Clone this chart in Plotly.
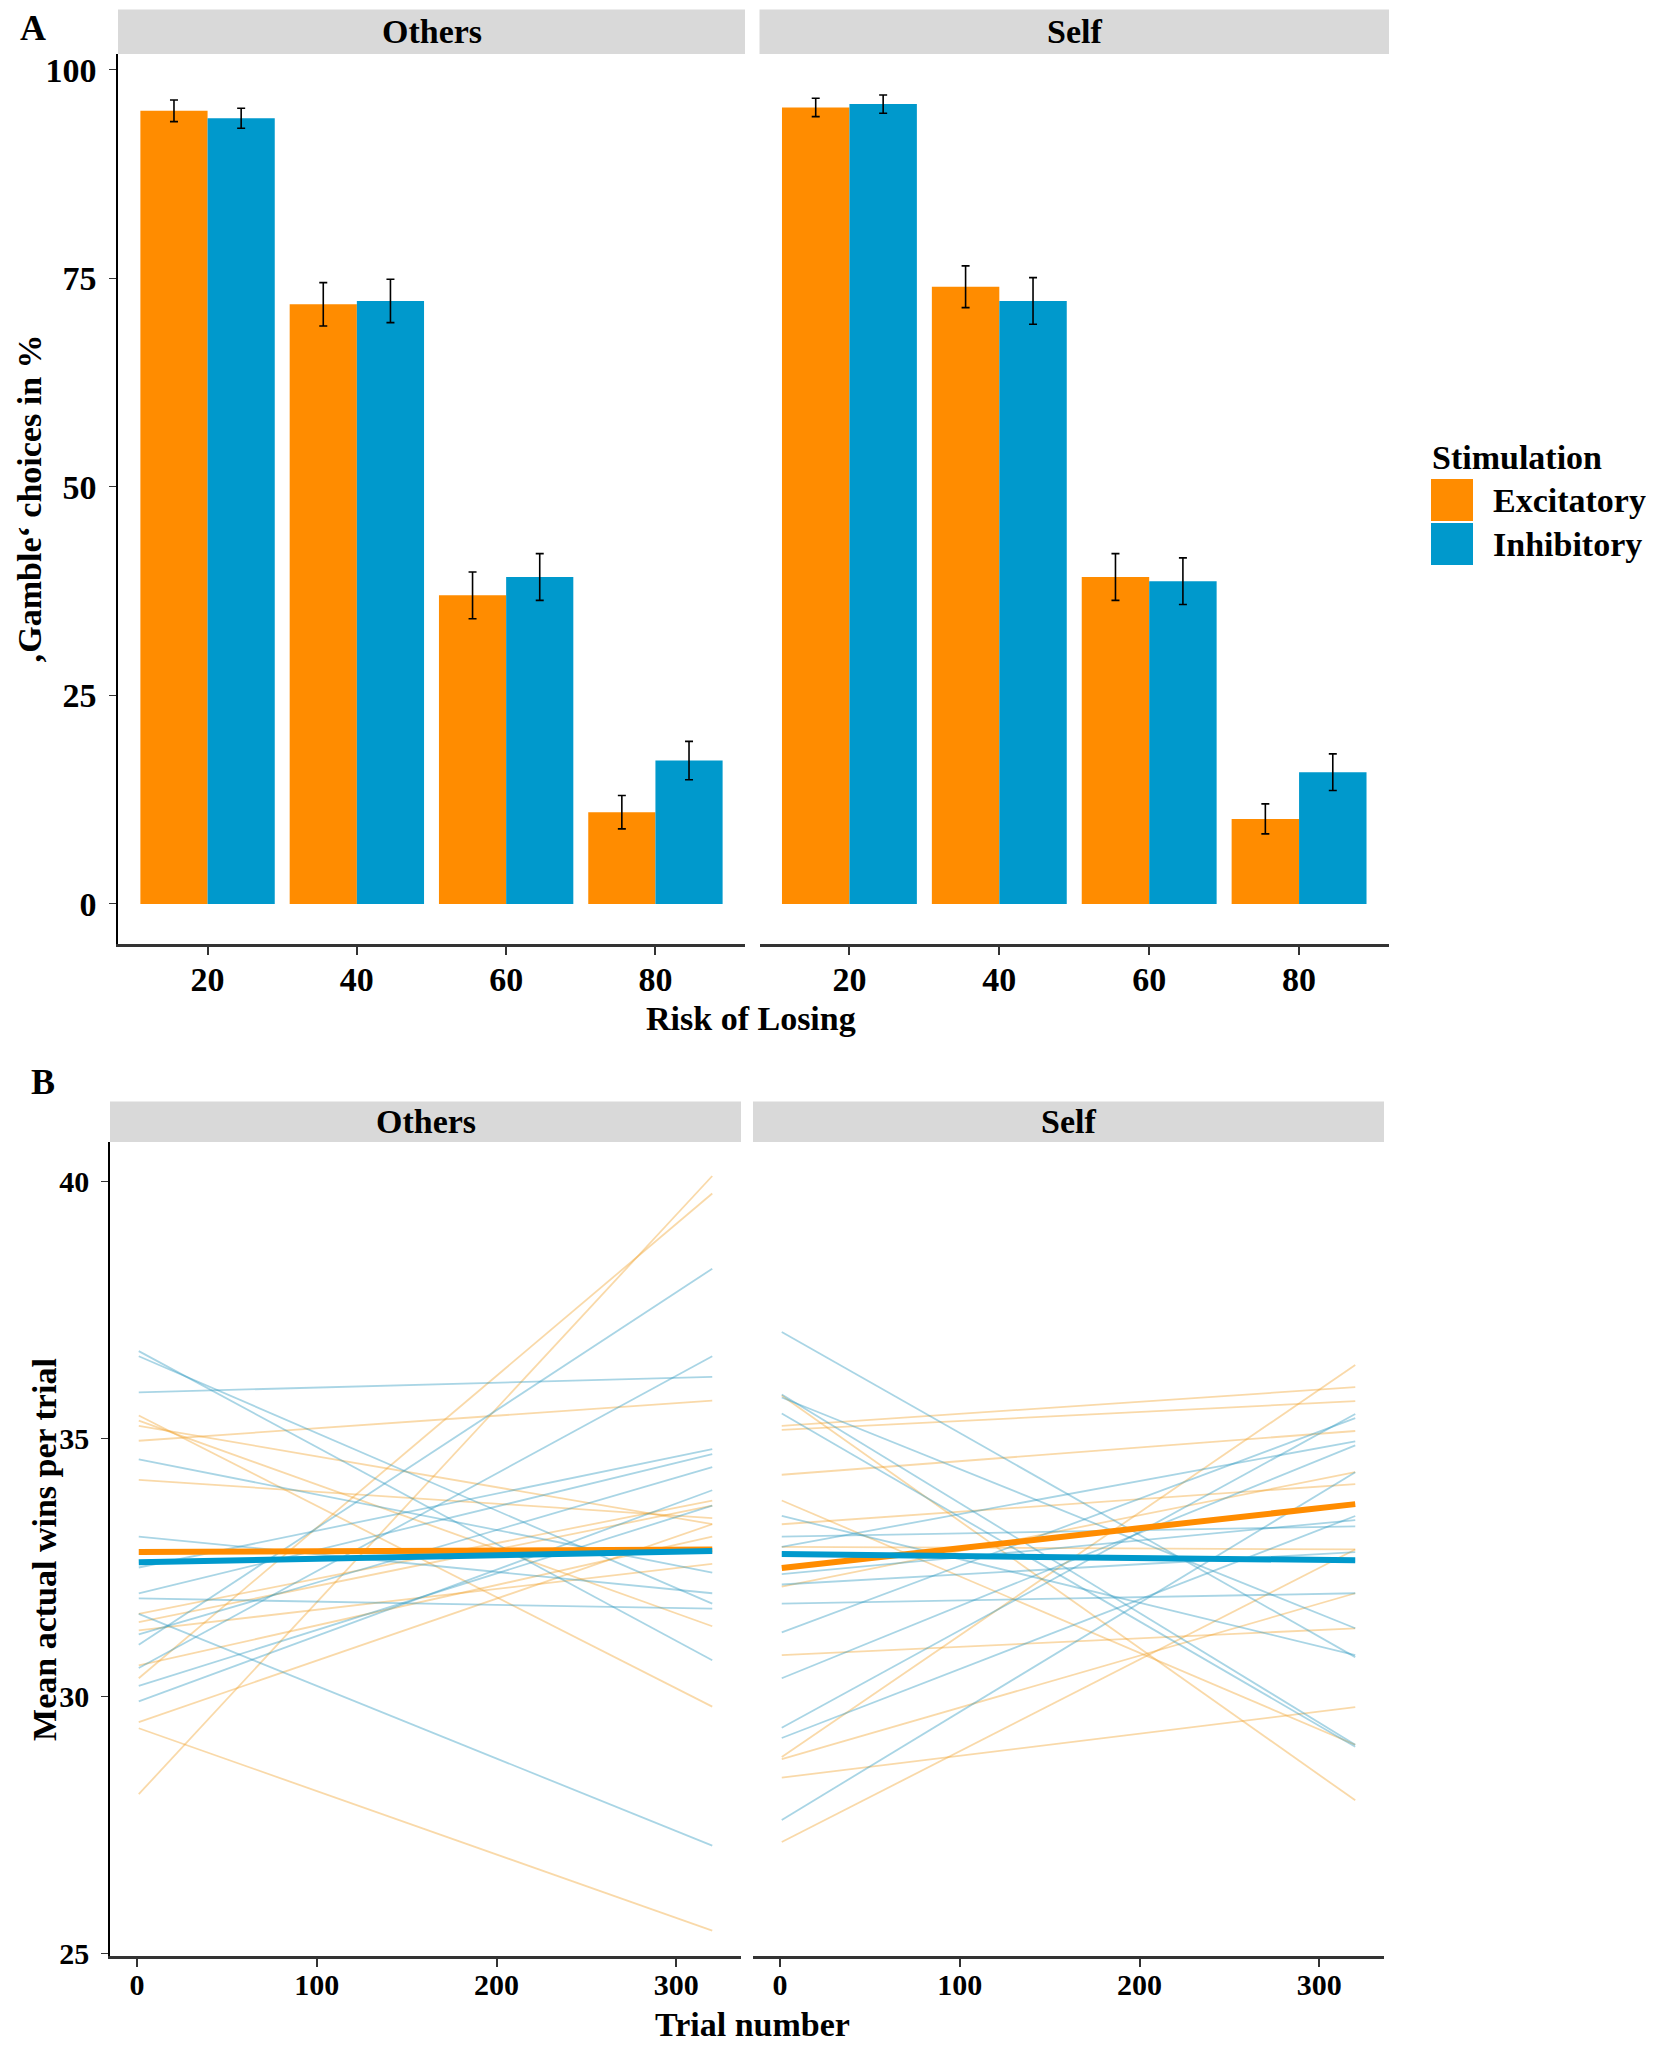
import plotly.graph_objects as go

W, H = 1654, 2050

# ---- data: panel A (gamble choices, %) ----
risk = ["20", "40", "60", "80"]
stim_levels = ["Excitatory", "Inhibitory"]

others_exc = [95.1, 71.9, 37.0, 11.0]
others_exc_se = [1.3, 2.6, 2.8, 2.0]
others_inh = [94.2, 72.3, 39.2, 17.2]
others_inh_se = [1.2, 2.6, 2.8, 2.3]
self_exc = [95.5, 74.0, 39.2, 10.2]
self_exc_se = [1.1, 2.5, 2.8, 1.8]
self_inh = [95.9, 72.3, 38.7, 15.8]
self_inh_se = [1.1, 2.8, 2.8, 2.2]

# ---- data: panel B (fitted lines, value at first and last trial) ----
trial_ends = [1, 320]

others_exc_start = [35.45, 35.35, 35.25, 34.96, 34.2, 31.6, 31.44, 31.28, 30.6, 30.35, 28.1, 29.38, 29.5]
others_exc_end = [29.8, 31.36, 33.34, 35.74, 33.46, 33.8, 33.7, 32.57, 33.1, 39.76, 40.1, 25.45, 33.34]
others_inh_start = [36.7, 36.6, 35.9, 34.6, 33.1, 32.5, 32.0, 31.9, 31.6, 31.2, 31.0, 30.55, 29.9, 30.2]
others_inh_end = [30.7, 31.8, 36.2, 32.4, 32.0, 34.8, 34.7, 31.7, 27.1, 34.45, 38.3, 36.6, 34.0, 33.7]

self_exc_start = [35.84, 35.25, 35.17, 34.3, 33.8, 33.34, 32.9, 32.13, 30.8, 28.82, 28.78, 28.42, 27.17]
self_exc_end = [27.98, 36.0, 35.73, 35.15, 29.06, 34.12, 32.85, 34.35, 31.32, 36.43, 32.0, 29.79, 32.85]
self_inh_start = [37.07, 35.86, 35.8, 35.49, 33.1, 32.37, 32.17, 31.8, 31.24, 30.35, 29.39, 29.19, 27.6, 32.9, 33.5]
self_inh_end = [30.76, 29.06, 31.32, 29.02, 33.3, 33.42, 32.8, 32.0, 35.4, 34.87, 35.48, 33.5, 34.35, 34.95, 30.8]

# group means (thick lines)
others_exc_mean = [32.8, 32.85]
others_inh_mean = [32.6, 32.82]
self_exc_mean = [32.49, 33.73]
self_inh_mean = [32.76, 32.64]

ORANGE = "#FF8C00"
BLUE = "#0099CC"
ORANGE_T = "rgba(240,160,40,0.40)"
BLUE_T = "rgba(40,150,190,0.40)"
FONT = "Liberation Serif"


# positions below are given in reference pixels; the page adds an 8px body margin
def px_x(p):
    return (p - 8) / W


def px_y(p):
    return 1 - (1.0078 * p - 8) / H


fig = go.Figure()

# ---- panel A bars ----
for xa, ya, exc, exc_se, inh, inh_se in [
    ("x", "y", others_exc, others_exc_se, others_inh, others_inh_se),
    ("x2", "y2", self_exc, self_exc_se, self_inh, self_inh_se),
]:
    for name, vals, se, col in [(stim_levels[0], exc, exc_se, ORANGE), (stim_levels[1], inh, inh_se, BLUE)]:
        fig.add_trace(go.Bar(
            x=risk, y=vals, name=name, offsetgroup=name, marker=dict(color=col, line=dict(width=0)),
            error_y=dict(type="data", array=se, color="black", thickness=1.6, width=4),
            xaxis=xa, yaxis=ya, showlegend=False,
        ))


# ---- panel B lines ----
def add_lines(xa, ya, starts, ends, col):
    xs, ys = [], []
    for s, e in zip(starts, ends):
        xs += [trial_ends[0], trial_ends[1], None]
        ys += [s, e, None]
    fig.add_trace(go.Scatter(x=xs, y=ys, mode="lines", line=dict(color=col, width=1.8),
                             xaxis=xa, yaxis=ya, showlegend=False, hoverinfo="skip"))


add_lines("x3", "y3", others_exc_start, others_exc_end, ORANGE_T)
add_lines("x3", "y3", others_inh_start, others_inh_end, BLUE_T)
add_lines("x4", "y4", self_exc_start, self_exc_end, ORANGE_T)
add_lines("x4", "y4", self_inh_start, self_inh_end, BLUE_T)

for xa, ya, m, col in [
    ("x3", "y3", others_exc_mean, ORANGE), ("x3", "y3", others_inh_mean, BLUE),
    ("x4", "y4", self_exc_mean, ORANGE), ("x4", "y4", self_inh_mean, BLUE),
]:
    fig.add_trace(go.Scatter(x=trial_ends, y=m, mode="lines", line=dict(color=col, width=6),
                             xaxis=xa, yaxis=ya, showlegend=False))

# ---- axes ----
tickA = dict(family=FONT, size=34, color="black", weight="bold")
tickB = dict(family=FONT, size=30, color="black", weight="bold")


def xax(dom, anchor, tf, standoff, **kw):
    return dict(domain=dom, anchor=anchor, showgrid=False, zeroline=False, showline=True,
                linecolor="#333333", linewidth=2.5, ticks="outside", ticklen=8, tickcolor="#333333",
                tickwidth=1.5, tickfont=tf, ticklabelstandoff=standoff, **kw)


def yax(dom, anchor, tf, rng, tickvals=None):
    if tickvals is None:
        return dict(domain=dom, anchor=anchor, range=rng, showgrid=False, zeroline=False,
                    showticklabels=False, showline=False, ticks="")
    return dict(domain=dom, anchor=anchor, range=rng, tickvals=tickvals, showgrid=False, zeroline=False,
                showline=True, linecolor="black", linewidth=1.5, ticks="outside", ticklen=7,
                tickcolor="#333333", tickfont=tf, ticklabelstandoff=6)


dA_o = [px_x(118), px_x(745)]
dA_s = [px_x(759.5), px_x(1389)]
dB_o = [px_x(110), px_x(741)]
dB_s = [px_x(753), px_x(1384)]
yA = [px_y(942), px_y(52)]
yB = [px_y(1954.5), px_y(1140)]
rngA = [-4.8, 101.9]
rngB = [24.95, 40.76]

fig.update_layout(
    xaxis=xax(dA_o, "y", tickA, -5, type="category", range=[-0.6, 3.6]),
    xaxis2=xax(dA_s, "y2", tickA, -5, type="category", range=[-0.6, 3.6]),
    yaxis=yax(yA, "x", tickA, rngA, [0, 25, 50, 75, 100]),
    yaxis2=yax(yA, "x2", tickA, rngA),
    xaxis3=xax(dB_o, "y3", tickB, -8, range=[-15, 336], tickvals=[0, 100, 200, 300]),
    xaxis4=xax(dB_s, "y4", tickB, -8, range=[-15, 336], tickvals=[0, 100, 200, 300]),
    yaxis3=yax(yB, "x3", tickB, rngB, [25, 30, 35, 40]),
    yaxis4=yax(yB, "x4", tickB, rngB),
    barmode="group", bargap=0.1, bargroupgap=0,
)

# ---- strips, labels, legend ----
shapes = []
annotations = []
bold = dict(family=FONT, size=34, color="black", weight="bold")
big = dict(family=FONT, size=36, color="black", weight="bold")

for dom, y0, y1, label in [
    (dA_o, px_y(52), px_y(7.5), "Others"), (dA_s, px_y(52), px_y(7.5), "Self"),
    (dB_o, px_y(1140), px_y(1099.5), "Others"), (dB_s, px_y(1140), px_y(1099.5), "Self"),
]:
    shapes.append(dict(type="rect", xref="paper", yref="paper", x0=dom[0], x1=dom[1], y0=y0, y1=y1,
                       fillcolor="#D9D9D9", line=dict(width=0), layer="below"))
    annotations.append(dict(text=label, x=(dom[0] + dom[1]) / 2, y=(y0 + y1) / 2, font=bold,
                            xanchor="center", yanchor="middle"))

annotations += [
    dict(text="A", x=px_x(18), y=px_y(26), font=big, xanchor="left", yanchor="middle"),
    dict(text="B", x=px_x(29), y=px_y(1080), font=big, xanchor="left", yanchor="middle"),
    dict(text="Risk of Losing", x=px_x(751), y=px_y(1017), font=bold, xanchor="center", yanchor="middle"),
    dict(text="Trial number", x=px_x(752), y=px_y(2023), font=bold, xanchor="center", yanchor="middle"),
    dict(text="\u201aGamble\u2018 choices in %", x=px_x(29), y=px_y(497), font=bold, textangle=-90,
         xanchor="center", yanchor="middle"),
    dict(text="Mean actual wins per trial", x=px_x(45), y=px_y(1548), font=bold, textangle=-90,
         xanchor="center", yanchor="middle"),
    dict(text="Stimulation", x=px_x(1430), y=px_y(455), font=bold, xanchor="left", yanchor="middle"),
]

for i, (name, col) in enumerate(zip(stim_levels, [ORANGE, BLUE])):
    top = 477 + i * 44
    shapes.append(dict(type="rect", xref="paper", yref="paper", x0=px_x(1431), x1=px_x(1473),
                       y0=px_y(top + 42), y1=px_y(top), fillcolor=col, line=dict(width=0)))
    annotations.append(dict(text=name, x=px_x(1491), y=px_y(top + 21), font=bold,
                            xanchor="left", yanchor="middle"))

for a in annotations:
    a.setdefault("xref", "paper")
    a.setdefault("yref", "paper")
    a.setdefault("showarrow", False)

fig.update_layout(
    shapes=shapes, annotations=annotations,
    width=W, height=H, autosize=False,
    margin=dict(l=0, r=0, t=0, b=0),
    paper_bgcolor="white", plot_bgcolor="white",
    font=dict(family=FONT, size=34, color="black", weight="bold"),
    showlegend=False,
)

fig.write_html("out.html")
